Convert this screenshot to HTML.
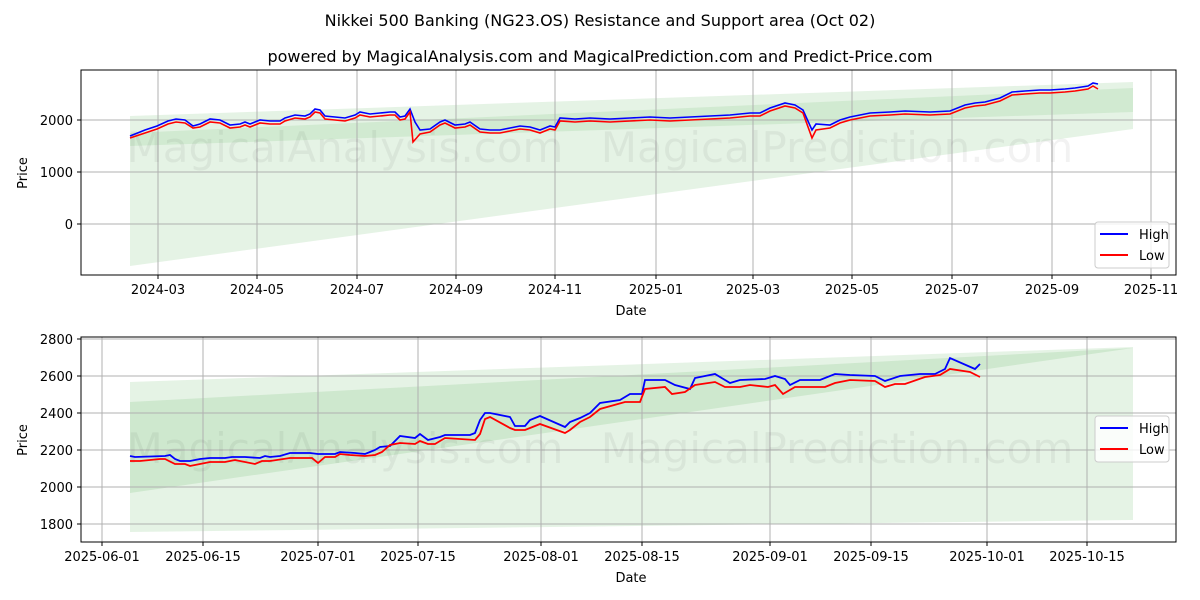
<!DOCTYPE html>
<html><head><meta charset="utf-8"><style>body{margin:0;background:#fff}svg{display:block}text{font-family:"DejaVu Sans","Liberation Sans",sans-serif;fill:#000}</style></head><body>
<svg width="1200" height="600" viewBox="0 0 1200 600">
<text x="600" y="26" font-size="16" text-anchor="middle">Nikkei 500 Banking (NG23.OS) Resistance and Support area (Oct 02)</text>
<text x="600" y="62" font-size="16" text-anchor="middle">powered by MagicalAnalysis.com and MagicalPrediction.com and Predict-Price.com</text>

<!-- TOP CHART -->
<g>
<polygon points="130,116 1133,82 1133,129 130,266" fill="#2ca02c" fill-opacity="0.12"/>
<polygon points="130,133 1133,88 1133,112 130,146" fill="#2ca02c" fill-opacity="0.1"/>
<g stroke="#b0b0b0" stroke-width="1">
<line x1="158" y1="70" x2="158" y2="275"/><line x1="257" y1="70" x2="257" y2="275"/><line x1="357" y1="70" x2="357" y2="275"/><line x1="456" y1="70" x2="456" y2="275"/><line x1="555" y1="70" x2="555" y2="275"/><line x1="656" y1="70" x2="656" y2="275"/><line x1="753" y1="70" x2="753" y2="275"/><line x1="852" y1="70" x2="852" y2="275"/><line x1="952" y1="70" x2="952" y2="275"/><line x1="1052" y1="70" x2="1052" y2="275"/><line x1="1151" y1="70" x2="1151" y2="275"/>
<line x1="81" y1="120" x2="1176" y2="120"/><line x1="81" y1="172" x2="1176" y2="172"/><line x1="81" y1="224" x2="1176" y2="224"/>
</g>
<text x="345" y="162" font-size="42" text-anchor="middle" style="fill:rgba(0,0,0,0.05)">MagicalAnalysis.com</text>
<text x="837" y="162" font-size="42" text-anchor="middle" style="fill:rgba(0,0,0,0.05)">MagicalPrediction.com</text>
<polyline fill="none" stroke="#0000ff" stroke-width="1.6" points="130,136 145,130 157,126 168,121 176,119 185,120 193,126 200,124 210,119 220,120 230,125 240,124 245,122 250,124 260,120 270,121 280,121 285,118 295,115 305,116 310,114 315,109 320,110 325,116 335,117 345,118 355,115 360,112 370,114 380,113 390,112 395,112 400,117 405,116 410,109 415,122 420,130 430,129 440,122 445,120 455,125 465,124 470,122 480,129 490,130 500,130 510,128 520,126 530,127 540,130 545,128 550,126 555,127 560,118 575,119 590,118 610,119 630,118 650,117 670,118 690,117 710,116 730,115 750,113 760,113 770,108 785,103 795,105 803,110 812,130 816,124 830,125 840,120 850,117 870,113 890,112 905,111 930,112 950,111 965,105 975,103 985,102 1000,98 1012,92 1025,91 1040,90 1050,90 1065,89 1075,88 1088,86 1093,83 1098,84"/>
<polyline fill="none" stroke="#ff0000" stroke-width="1.6" points="130,138 145,133 157,129 168,124 176,122 185,123 193,128 200,127 210,122 220,123 230,128 240,127 245,125 250,127 260,123 270,124 280,124 285,121 295,118 305,119 310,117 315,112 320,113 325,119 335,120 345,121 355,118 360,115 370,117 380,116 390,115 395,115 400,120 405,119 410,112 413,142 420,134 430,132 440,125 445,123 455,128 465,127 470,125 480,132 490,133 500,133 510,131 520,129 530,130 540,133 545,131 550,129 555,130 560,121 575,122 590,121 610,122 630,121 650,120 670,121 690,120 710,119 730,118 750,116 760,116 770,111 785,106 795,108 803,113 812,138 816,130 830,128 840,123 850,120 870,116 890,115 905,114 930,115 950,114 965,108 975,106 985,105 1000,101 1012,95 1025,94 1040,93 1050,93 1065,92 1075,91 1088,89 1093,86 1098,89"/>
<rect x="81" y="70" width="1095" height="205" fill="none" stroke="#000" stroke-width="1"/>
<g font-size="13" text-anchor="middle">
<text x="158" y="294">2024-03</text><text x="257" y="294">2024-05</text><text x="357" y="294">2024-07</text><text x="456" y="294">2024-09</text><text x="555" y="294">2024-11</text><text x="656" y="294">2025-01</text><text x="753" y="294">2025-03</text><text x="852" y="294">2025-05</text><text x="952" y="294">2025-07</text><text x="1052" y="294">2025-09</text><text x="1151" y="294">2025-11</text>
</g>
<g stroke="#000"><line x1="158" y1="275" x2="158" y2="279"/><line x1="257" y1="275" x2="257" y2="279"/><line x1="357" y1="275" x2="357" y2="279"/><line x1="456" y1="275" x2="456" y2="279"/><line x1="555" y1="275" x2="555" y2="279"/><line x1="656" y1="275" x2="656" y2="279"/><line x1="753" y1="275" x2="753" y2="279"/><line x1="852" y1="275" x2="852" y2="279"/><line x1="952" y1="275" x2="952" y2="279"/><line x1="1052" y1="275" x2="1052" y2="279"/><line x1="1151" y1="275" x2="1151" y2="279"/>
<line x1="77" y1="120" x2="81" y2="120"/><line x1="77" y1="172" x2="81" y2="172"/><line x1="77" y1="224" x2="81" y2="224"/></g>
<g font-size="13" text-anchor="end"><text x="73" y="125">2000</text><text x="73" y="177">1000</text><text x="73" y="229">0</text></g>
<text x="631" y="315" font-size="13" text-anchor="middle">Date</text>
<text transform="translate(27,173) rotate(-90)" font-size="13" text-anchor="middle">Price</text>
<rect x="1095" y="222" width="74" height="46" fill="#fff" fill-opacity="0.8" stroke="#ccc" rx="3"/>
<line x1="1100" y1="234" x2="1128" y2="234" stroke="#0000ff" stroke-width="2"/><text x="1139" y="239" font-size="13">High</text>
<line x1="1100" y1="255" x2="1128" y2="255" stroke="#ff0000" stroke-width="2"/><text x="1139" y="260" font-size="13">Low</text>
</g>

<!-- BOTTOM CHART -->
<g>
<polygon points="130,382 1133,347 1133,520 130,532" fill="#2ca02c" fill-opacity="0.12"/>
<polygon points="130,402 1133,348 130,493" fill="#2ca02c" fill-opacity="0.12"/>
<g stroke="#b0b0b0" stroke-width="1">
<line x1="102" y1="337" x2="102" y2="542"/><line x1="203" y1="337" x2="203" y2="542"/><line x1="318" y1="337" x2="318" y2="542"/><line x1="418" y1="337" x2="418" y2="542"/><line x1="541" y1="337" x2="541" y2="542"/><line x1="642" y1="337" x2="642" y2="542"/><line x1="770" y1="337" x2="770" y2="542"/><line x1="871" y1="337" x2="871" y2="542"/><line x1="987" y1="337" x2="987" y2="542"/><line x1="1087" y1="337" x2="1087" y2="542"/>
<line x1="81" y1="339" x2="1176" y2="339"/><line x1="81" y1="376" x2="1176" y2="376"/><line x1="81" y1="413" x2="1176" y2="413"/><line x1="81" y1="450" x2="1176" y2="450"/><line x1="81" y1="487" x2="1176" y2="487"/><line x1="81" y1="524" x2="1176" y2="524"/>
</g>
<text x="345" y="463" font-size="42" text-anchor="middle" style="fill:rgba(0,0,0,0.05)">MagicalAnalysis.com</text>
<text x="837" y="463" font-size="42" text-anchor="middle" style="fill:rgba(0,0,0,0.05)">MagicalPrediction.com</text>
<polyline fill="none" stroke="#0000ff" stroke-width="1.8" points="130,456 135,457 165,456 170,455 175,459 180,461 190,461 200,459 210,458 225,458 232,457 245,457 260,458 265,456 270,457 280,456 290,453 310,453 318,454 325,454 335,454 340,452 355,453 365,454 370,452 375,450 380,447 390,446 400,436 415,438 420,434 428,440 440,437 445,435 470,435 475,433 480,420 485,413 490,413 510,417 515,426 525,426 530,420 540,416 565,427 570,422 580,418 590,413 600,403 620,400 630,394 642,394 645,380 665,380 675,385 690,389 695,378 715,374 730,383 740,380 765,379 775,376 785,379 790,385 800,380 820,380 835,374 850,375 875,376 885,381 900,376 920,374 935,374 945,369 950,358 975,369 980,364"/>
<polyline fill="none" stroke="#ff0000" stroke-width="1.8" points="130,461 140,461 160,459 165,459 175,464 185,464 190,466 200,464 210,462 220,462 225,462 235,460 255,464 262,461 270,461 290,458 300,458 312,458 318,463 325,457 335,457 340,454 350,455 365,456 375,455 382,452 390,445 400,443 415,444 420,441 428,444 435,444 445,438 475,440 480,434 485,419 490,417 510,428 515,430 525,430 530,428 540,424 565,433 570,430 580,422 590,417 600,409 625,402 640,402 645,389 665,387 672,394 685,392 695,385 715,382 725,387 740,387 750,385 768,387 775,385 783,394 795,387 825,387 835,383 850,380 875,381 885,387 895,384 905,384 925,377 940,375 950,369 970,372 980,377"/>
<rect x="81" y="337" width="1095" height="205" fill="none" stroke="#000" stroke-width="1"/>
<g font-size="13" text-anchor="middle">
<text x="102" y="561">2025-06-01</text><text x="203" y="561">2025-06-15</text><text x="318" y="561">2025-07-01</text><text x="418" y="561">2025-07-15</text><text x="541" y="561">2025-08-01</text><text x="642" y="561">2025-08-15</text><text x="770" y="561">2025-09-01</text><text x="871" y="561">2025-09-15</text><text x="987" y="561">2025-10-01</text><text x="1087" y="561">2025-10-15</text>
</g>
<g stroke="#000"><line x1="102" y1="542" x2="102" y2="546"/><line x1="203" y1="542" x2="203" y2="546"/><line x1="318" y1="542" x2="318" y2="546"/><line x1="418" y1="542" x2="418" y2="546"/><line x1="541" y1="542" x2="541" y2="546"/><line x1="642" y1="542" x2="642" y2="546"/><line x1="770" y1="542" x2="770" y2="546"/><line x1="871" y1="542" x2="871" y2="546"/><line x1="987" y1="542" x2="987" y2="546"/><line x1="1087" y1="542" x2="1087" y2="546"/>
<line x1="77" y1="339" x2="81" y2="339"/><line x1="77" y1="376" x2="81" y2="376"/><line x1="77" y1="413" x2="81" y2="413"/><line x1="77" y1="450" x2="81" y2="450"/><line x1="77" y1="487" x2="81" y2="487"/><line x1="77" y1="524" x2="81" y2="524"/></g>
<g font-size="13" text-anchor="end"><text x="73" y="344">2800</text><text x="73" y="381">2600</text><text x="73" y="418">2400</text><text x="73" y="455">2200</text><text x="73" y="492">2000</text><text x="73" y="529">1800</text></g>
<text x="631" y="582" font-size="13" text-anchor="middle">Date</text>
<text transform="translate(27,440) rotate(-90)" font-size="13" text-anchor="middle">Price</text>
<rect x="1095" y="416" width="74" height="46" fill="#fff" fill-opacity="0.8" stroke="#ccc" rx="3"/>
<line x1="1100" y1="428" x2="1128" y2="428" stroke="#0000ff" stroke-width="2"/><text x="1139" y="433" font-size="13">High</text>
<line x1="1100" y1="449" x2="1128" y2="449" stroke="#ff0000" stroke-width="2"/><text x="1139" y="454" font-size="13">Low</text>
</g>
</svg>
</body></html>
